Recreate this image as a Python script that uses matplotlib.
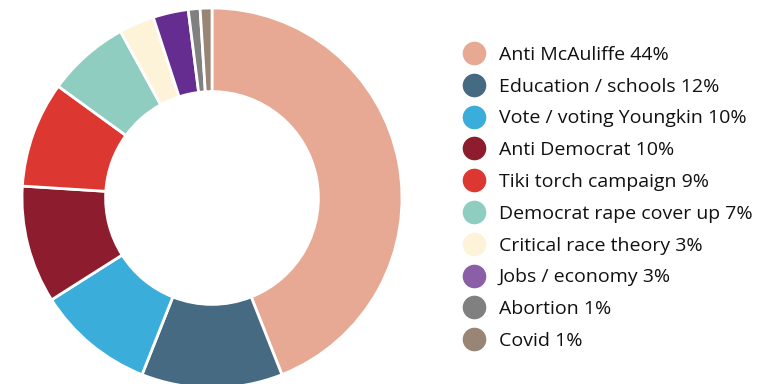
import matplotlib
matplotlib.use("Agg")
import matplotlib.pyplot as plt
from matplotlib.lines import Line2D

plt.rcParams['font.family'] = ['Open Sans', 'DejaVu Sans']

reasons = ["Anti McAuliffe", "Education / schools", "Vote / voting Youngkin",
           "Anti Democrat", "Tiki torch campaign", "Democrat rape cover up",
           "Critical race theory", "Jobs / economy", "Abortion", "Covid"]
shares = [44, 12, 10, 10, 9, 7, 3, 3, 1, 1]
colors = ["#e8a994", "#476a83", "#3aaddb", "#8c1c2e", "#dc3831",
          "#90cdc1", "#fdf3d8", "#662d91", "#808080", "#998576"]
# legend swatches use a softer purple for jobs / economy
legend_colors = colors[:7] + ["#8a5fa8"] + colors[8:]

W, H = 777, 384
fig = plt.figure(figsize=(W / 100, H / 100), dpi=100)

# donut, centred at (212, 198) px with a 190 px radius
cx, cy, r = 212, 198, 190
ax = fig.add_axes([(cx - r) / W, (H - cy - r) / H, 2 * r / W, 2 * r / H])
ax.pie(shares, colors=colors, startangle=90, counterclock=False,
       radius=1.0, wedgeprops=dict(width=0.44, edgecolor="white", linewidth=2))
ax.set_xlim(-1, 1)
ax.set_ylim(-1, 1)
ax.set_aspect("equal")
ax.axis("off")

handles = [Line2D([], [], linestyle="none", marker="o", markersize=17,
                  markerfacecolor=c, markeredgecolor="none")
           for c in legend_colors]
labels = [f"{n} {v}%" for n, v in zip(reasons, shares)]
fig.legend(handles, labels, loc="upper left",
           bbox_to_anchor=(453 / W, 1 - 36 / H), frameon=False,
           fontsize=14, handlelength=1.2, handletextpad=0.65,
           labelspacing=0.71, borderpad=0, labelcolor="#111111")

fig.savefig("out.png", dpi=100)
